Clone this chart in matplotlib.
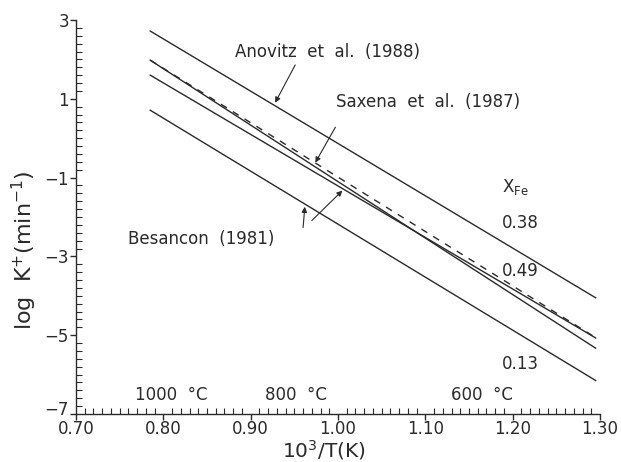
import matplotlib
matplotlib.use("Agg")
import matplotlib.pyplot as plt
from matplotlib.ticker import MultipleLocator, FixedLocator
from matplotlib.transforms import ScaledTranslation

# --- data (straight Arrhenius lines, endpoints) ---
x_ends = [0.785, 1.295]
anovitz = [2.72, -4.05]
saxena = [1.98, -5.06]          # dashed
solid_a = [1.98, -5.33]
solid_b = [1.60, -5.07]
bottom = [0.71, -6.15]

xfe_labels = ["0.38", "0.49", "0.13"]
xfe_y = [-2.14, -3.36, -5.73]

temp_labels = ["1000  °C", "800  °C", "600  °C"]
temp_x = [0.767, 0.916, 1.129]
temp_y = -6.52

INK = "#2a2a2a"
FS = 12

fig = plt.figure(figsize=(6.21, 4.62), dpi=100)
ax = fig.add_axes([0.1224, 0.1039, 0.8438, 0.8528])

for ys in (anovitz, solid_a, solid_b, bottom):
    ax.plot(x_ends, ys, color=INK, lw=1.0)
ax.plot(x_ends, saxena, color=INK, lw=1.0, ls=(0, (5, 5)))

ax.set_xlim(0.70, 1.30)
ax.set_ylim(-7, 3)
ax.xaxis.set_major_locator(MultipleLocator(0.10))
ax.xaxis.set_minor_locator(MultipleLocator(0.01))
ax.yaxis.set_major_locator(FixedLocator([-7, -5, -3, -1, 1, 3]))
ax.yaxis.set_minor_locator(MultipleLocator(0.2))
ax.xaxis.set_major_formatter(matplotlib.ticker.FormatStrFormatter("%.2f"))
ax.yaxis.set_major_formatter(matplotlib.ticker.FuncFormatter(
    lambda v, p: f"{int(v)}".replace("-", "\u2212")))

for s in ("top", "right"):
    ax.spines[s].set_visible(False)
for s in ("left", "bottom"):
    ax.spines[s].set_color(INK)
    ax.spines[s].set_linewidth(1.0)

ax.tick_params(which="major", direction="out", length=4, width=1.0,
               colors=INK, labelsize=FS, pad=1)
ax.tick_params(axis="x", which="major", pad=0)
ax.tick_params(which="minor", direction="in", length=4, width=0.8, colors=INK)

# lift the "-7" label a touch so it clears "0.70", as in the original
lab7 = ax.yaxis.get_major_ticks()[0].label1
lab7.set_transform(lab7.get_transform()
                   + ScaledTranslation(0, 4 / 72, fig.dpi_scale_trans))

ax.set_xlabel("10$^3$/T(K)", fontsize=14.5, color=INK)
ax.xaxis.set_label_coords(0.473, -0.062)
ax.set_ylabel("log  K$^{+}$(min$^{-1}$)", fontsize=16, color=INK)
ax.yaxis.set_label_coords(-0.07, 0.416)

# annotations
arrow = dict(arrowstyle="-|>", color=INK, lw=0.8, mutation_scale=8,
             shrinkA=0, shrinkB=0)
ax.text(0.882, 2.19, "Anovitz  et  al.  (1988)", fontsize=FS, color=INK,
        va="center")
ax.annotate("", xy=(0.928, 0.90), xytext=(0.951, 1.86), arrowprops=arrow)

ax.text(0.998, 0.91, "Saxena  et  al.  (1987)", fontsize=FS, color=INK,
        va="center")
ax.annotate("", xy=(0.974, -0.62), xytext=(0.997, 0.28), arrowprops=arrow)

ax.text(0.760, -2.55, "Besancon  (1981)", fontsize=FS, color=INK,
        va="center")
ax.annotate("", xy=(0.962, -1.74), xytext=(0.960, -2.27), arrowprops=arrow)
ax.annotate("", xy=(1.005, -1.33), xytext=(0.970, -2.09), arrowprops=arrow)

ax.text(1.188, -1.25, "X$_{\\mathrm{Fe}}$", fontsize=FS, color=INK, va="center")
for lab, yv in zip(xfe_labels, xfe_y):
    ax.text(1.188, yv, lab, fontsize=FS, color=INK, va="center")

for lab, xv in zip(temp_labels, temp_x):
    ax.text(xv, temp_y, lab, fontsize=FS, color=INK, va="center")

fig.savefig("out.png", dpi=100)
